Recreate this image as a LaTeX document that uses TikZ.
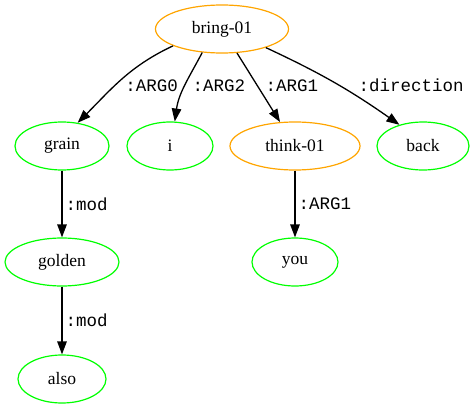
\documentclass[tikz,border=0pt]{standalone}
\usepackage{fontspec}
\setmainfont{Liberation Serif}
\newfontfamily\rolefont{Liberation Mono}
\usetikzlibrary{arrows.meta,shapes.geometric}
\definecolor{amrorange}{RGB}{255,165,0}
\definecolor{amrgreen}{RGB}{0,255,0}
\tikzset{
  predicate/.style=
  {
    ellipse,
    draw=amrorange,
    line width=1.2pt,
    inner sep=0pt,
    minimum height=48pt,
    font=\fontsize{17.5}{20}\selectfont
  },
  concept/.style=
  {
    ellipse,
    draw=amrgreen,
    line width=1.2pt,
    inner sep=0pt,
    minimum height=48pt,
    font=\fontsize{17.5}{20}\selectfont
  },
  role/.style=
  {
    draw=black,
    line width=1.3pt,
    -{Triangle[length=13pt,width=9.5pt]}
  },
  rolelabel/.style=
  {
    anchor=west,
    inner sep=0pt,
    font=\rolefont\fontsize{17.5}{20}\selectfont
  }
}

\begin{document}
\begin{tikzpicture}[x=1pt, y=-1pt]
  \useasboundingbox (0,0) rectangle (475,407);
  % nodes
  \node[predicate, minimum width=133pt] (bring) at (222,29) {bring-01};
  \node[concept, minimum width=94pt] (grain) at (62,146) {grain};
  \node[concept, minimum width=86pt] (i) at (170,146) {i};
  \node[predicate, minimum width=130pt] (think) at (295,146) {think-01};
  \node[concept, minimum width=92pt] (back) at (423,146) {back};
  \node[concept, minimum width=114pt] (golden) at (62,262) {golden};
  \node[concept, minimum width=86pt] (you) at (295,262) {you};
  \node[concept, minimum width=88pt] (also) at (62,379) {also};
  % edges
  \draw[role] (bring.-161) to[out=-155, in=45] node[rolelabel, pos=.585, xshift=10pt] {:ARG0} (grain.56);
  \draw[role] (bring.-130) to[out=-118, in=82] node[rolelabel, pos=.5, xshift=7pt] {:ARG2} (i.79);
  \draw[role] (bring) -- node[rolelabel, pos=.478, xshift=7.5pt] {:ARG1} (think);
  \draw[role] (bring.-23) to[out=-25, in=145] node[rolelabel, pos=.54, xshift=18.5pt] {:direction} (back.138);
  \draw[role] (grain) -- node[rolelabel, xshift=3pt] {:mod} (golden);
  \draw[role] (golden) -- node[rolelabel, xshift=3pt] {:mod} (also);
  \draw[role] (think) -- node[rolelabel, xshift=3pt] {:ARG1} (you);
\end{tikzpicture}
\end{document}
